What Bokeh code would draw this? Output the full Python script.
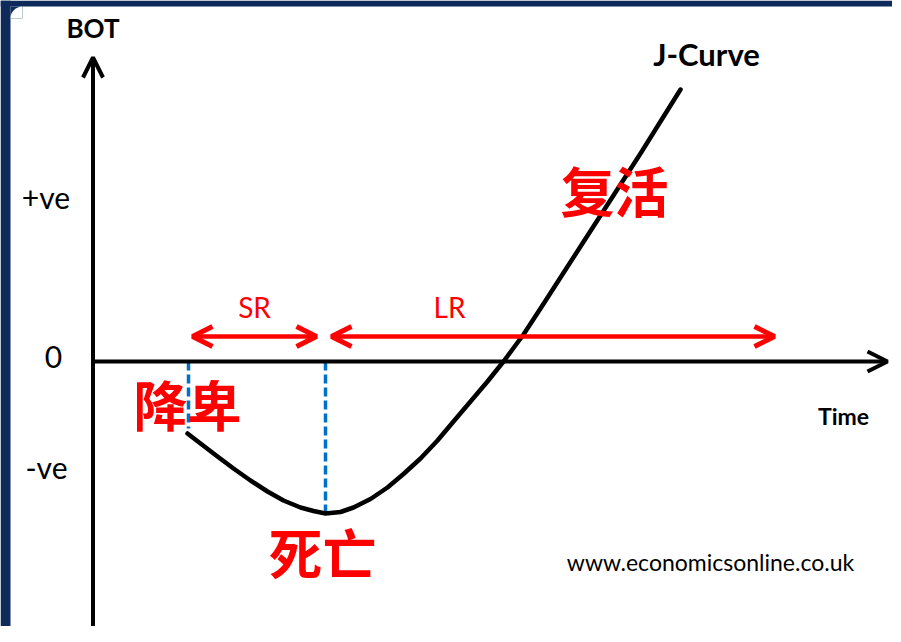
from bokeh.plotting import figure
from bokeh.models import Arrow, OpenHead, Range1d, Label, ColumnDataSource
from bokeh.embed import file_html
from bokeh.resources import INLINE

# ---- data (time units, BOT units; 0 = origin of the axes) ----
time = [9.5, 10.8, 12.5, 14.1, 15.8, 17.5, 19.1, 20.8, 22.1, 23.3,
        24.8, 26.1, 27.8, 29.5, 31.1, 32.8, 34.5, 36.1, 37.8, 39.5,
        41.1, 42.1, 43.1, 44.8, 46.8, 48.8, 50.8, 52.8, 54.8, 56.8, 58.8]
bot = [-7.2, -8.2, -9.5, -10.7, -11.9, -13.0, -13.9, -14.6, -14.95, -15.2,
       -15.05, -14.6, -13.75, -12.6, -11.25, -9.7, -7.9, -6.0, -4.0, -2.0,
       0.0, 1.35, 2.7, 5.3, 8.4, 11.5, 14.6, 17.7, 20.8, 24.0, 27.2]

y_tick_labels = ["+ve", "0", "-ve"]
y_tick_values = [16.46, 0.5, -10.54]
y_tick_centres = [-4.65, -3.9, -4.6]

sr_start, sr_end = 10.0, 22.4     # short run
lr_start, lr_end = 23.9, 68.2     # long run
period_level = 2.5
fall_time, fall_bot = 9.6, -6.7   # start of decline
trough_time, trough_bot = 23.3, -15.2

x_axis_end = 79.5
y_axis_top, y_axis_bottom = 30.4, -26.5

phase_labels = ["降卑", "死亡", "复活"]
phase_x = [9.5, 23.0, 52.2]
phase_y = [-4.2, -19.0, 17.2]

X0, X1, Y0, Y1 = -9.2, 80.0, -26.5, 36.1

# ---- figure ----
p = figure(width=892, height=626, output_backend="svg", toolbar_location=None,
           x_axis_type=None, y_axis_type=None,
           x_range=Range1d(X0, X1), y_range=Range1d(Y0, Y1),
           min_border=0, outline_line_color=None,
           background_fill_color="white", border_fill_color="white")
p.grid.visible = False

NAVY = "#0D2A5A"
# navy frame strips (left and top) with a rounded inner corner
p.quad(left=[X0, X0], right=[X0 + 1.0, X1], bottom=[Y0, Y1 - 0.6], top=[Y1, Y1],
       fill_color=NAVY, line_color=None)
p.quad(left=[X0 + 1.0], right=[X0 + 2.2], bottom=[Y1 - 1.8], top=[Y1 - 0.6],
       fill_color=NAVY, line_color=None)
p.wedge(x=[X0 + 2.2], y=[Y1 - 1.8], radius=12, radius_units="screen",
        start_angle=90, end_angle=180, start_angle_units="deg", end_angle_units="deg",
        fill_color="white", line_color=None)

# axes with arrow heads
p.add_layout(Arrow(end=OpenHead(size=20, line_width=4, line_color="black"),
                   x_start=0.05, y_start=y_axis_bottom, x_end=0.05, y_end=y_axis_top,
                   line_width=4, line_color="black"))
p.add_layout(Arrow(end=OpenHead(size=20, line_width=4, line_color="black"),
                   x_start=0.0, y_start=0.0, x_end=x_axis_end, y_end=0.0,
                   line_width=4, line_color="black"))

# blue dashed markers
p.segment(x0=[fall_time, trough_time], y0=[0, 0],
          x1=[fall_time, trough_time], y1=[fall_bot, trough_bot],
          line_color="#0070C8", line_width=3.5, line_dash="9 4")

# J-curve
src = ColumnDataSource(dict(t=time, b=bot))
p.line("t", "b", source=src, line_color="black", line_width=4.5,
       line_join="round", line_cap="round")

# red period arrows
RED = "#FF0000"
for a, b in [(sr_start, sr_end), (lr_start, lr_end)]:
    p.add_layout(Arrow(start=OpenHead(size=20, line_width=5, line_color=RED),
                       end=OpenHead(size=20, line_width=5, line_color=RED),
                       x_start=a, y_start=period_level, x_end=b, y_end=period_level,
                       line_width=4.5, line_color=RED))

FONT = "Lato"

def lab(x, y, text, size, color="black", bold=False, font=FONT):
    p.add_layout(Label(x=x, y=y, text=text, text_font=font,
                       text_font_size=f"{size}px",
                       text_font_style="bold" if bold else "normal",
                       text_color=color, text_align="center",
                       text_baseline="middle"))

lab(0.05, 33.35, "BOT", 26, bold=True)
for t, v, c in zip(y_tick_labels, y_tick_values, y_tick_centres):
    lab(c, v, t, 30)
lab(61.4, 30.76, "J-Curve", 31, bold=True)
lab(75.1, -5.4, "Time", 23, bold=True)
lab(16.2, 5.5, "SR", 28, color=RED)
lab(35.7, 5.5, "LR", 28, color=RED)
lab(61.8, -20.0, "www.economicsonline.co.uk", 23)

for t, x, y in zip(phase_labels, phase_x, phase_y):
    lab(x, y, t, 54, color=RED, bold=True, font="Noto Sans CJK SC")

open("out.html", "w").write(file_html(p, INLINE))
